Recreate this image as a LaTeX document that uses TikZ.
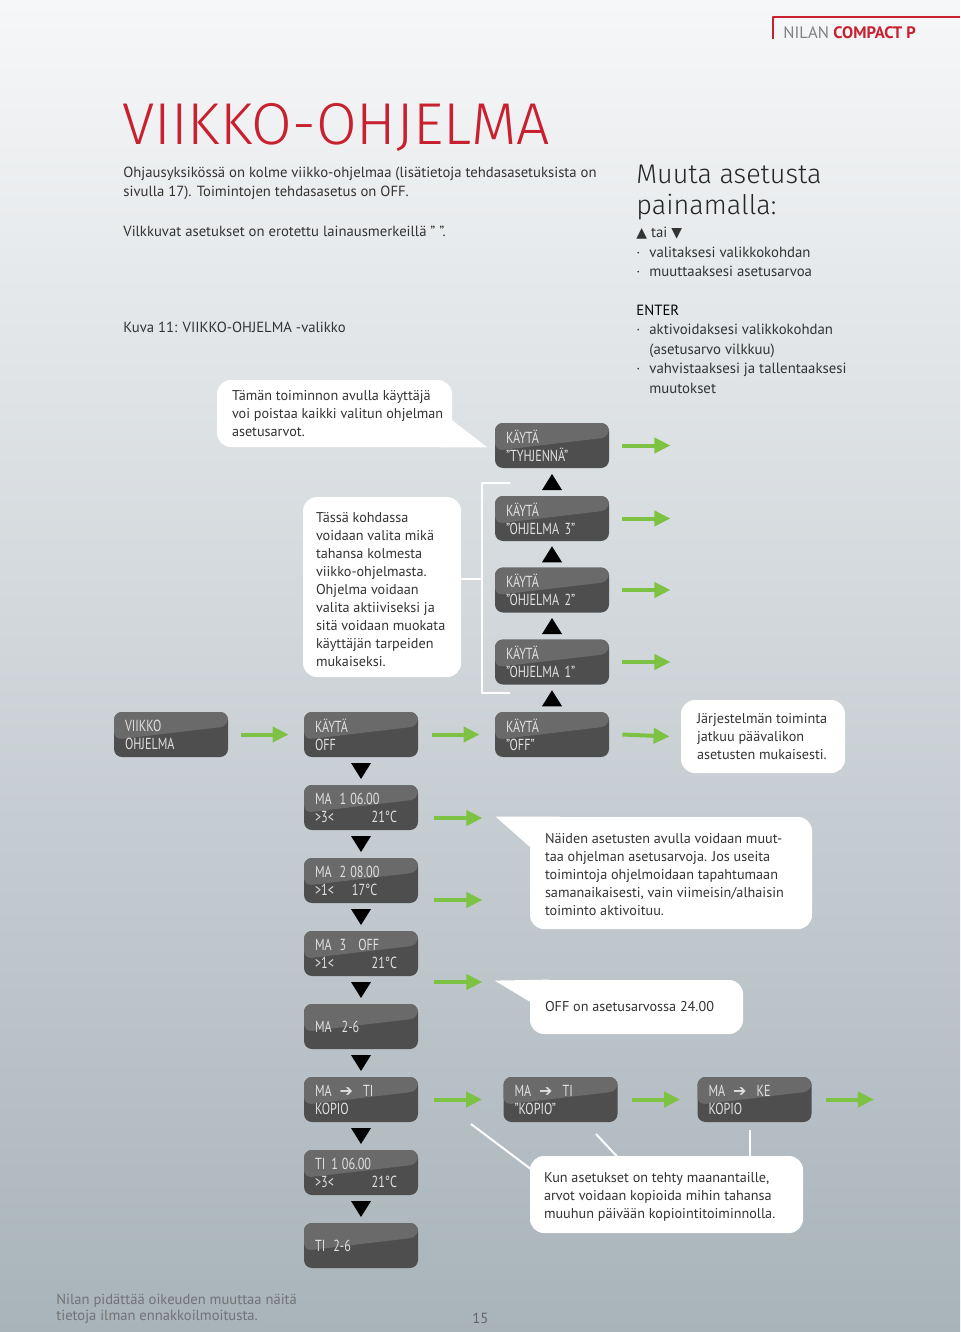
\documentclass[tikz,border=0pt]{standalone}
\usepackage{fontspec}
\setmainfont{PT Sans}
\newfontfamily\symfont{DejaVu Sans}
\newfontfamily\panelfont[FakeStretch=0.76]{PT Sans}
\IfFontExistsTF{FiraSans-Light.otf}{\newfontfamily\thinfont{FiraSans-Light.otf}}{%
  \IfFontExistsTF{Fira Sans Light}{\newfontfamily\thinfont{Fira Sans Light}}{%
    \IfFontExistsTF{DejaVu Sans ExtraLight}{\newfontfamily\thinfont{DejaVu Sans ExtraLight}}{%
      \newfontfamily\thinfont{PT Sans}}}}
\usepackage{xcolor}
\usetikzlibrary{arrows.meta,calc}

\definecolor{nilanred}{HTML}{C8202F}
\definecolor{bgtop}{HTML}{F6F7F8}
\definecolor{bgbottom}{HTML}{A8B3BA}
\definecolor{paneldark}{HTML}{4E4E4E}
\definecolor{panellight}{HTML}{6A6A6A}
\definecolor{arrowgreen}{HTML}{7DC243}
\definecolor{textgray}{HTML}{333333}

\newcommand\bul{\makebox[6.5pt][l]{·}}
\newcommand\copyarrow{{\symfont\fontsize{8}{8}\selectfont ➔}}

\begin{document}
\begin{tikzpicture}[x=0.5pt,y=-0.5pt,line join=round,
  panel/.style={rounded corners=4pt,minimum width=57pt,minimum height=22.5pt,
    inner xsep=5.5pt,inner ysep=0pt,text width=46pt,align=left,
    font=\panelfont\fontsize{8}{9}\selectfont,text=white!88!black,fill=paneldark,
    path picture={
      \fill[panellight] (path picture bounding box.north west) -- (path picture bounding box.north east)
        -- ($(path picture bounding box.north east)!0.32!(path picture bounding box.south east)$)
        .. controls ($(path picture bounding box.north)!0.45!(path picture bounding box.south)$) ..
        ($(path picture bounding box.north west)!0.62!(path picture bounding box.south west)$) -- cycle;}},
  bubble/.style={fill=white,rounded corners=7pt,inner sep=0pt},
  bubbletext/.style={anchor=west,inner sep=0pt,align=left,font=\fontsize{7.1}{9}\selectfont,text=textgray},
  body/.style={font=\fontsize{7.35}{9.5}\selectfont,text=textgray,inner sep=0pt,align=left},
  go/.style={draw=arrowgreen,line width=2pt,-{Triangle[length=8pt,width=7.5pt]}},
  wire/.style={draw=white,line width=1pt},
  dtri/.pic={\fill (-10,-8) -- (10,-8) -- (0,8) -- cycle;},
  utri/.pic={\fill (-10,8) -- (10,8) -- (0,-8) -- cycle;}]

  % page
  \useasboundingbox (0,0) rectangle (960,1332);
  \shade[top color=bgtop,bottom color=bgbottom] (0,0) rectangle (960,1332);

  % header
  \draw[nilanred,line width=1.3pt] (960,17) -- (773,17) -- (773,39);
  \node[anchor=base west,inner sep=0pt,font=\fontsize{8.3}{8}\selectfont] (brand) at (783,39)
    {{\color{black!50}NILAN} {\bfseries\color{nilanred}COMPACT P}};
  \node[anchor=base west,inner sep=0pt,font=\thinfont\fontsize{29.5}{30}\selectfont,text=nilanred] (title) at (122,145) {VIIKKO-OHJELMA};

  % texts (base = last line)
  \node[body,anchor=base west] (intro) at (123,197)
    {Ohjausyksikössä on kolme viikko-ohjelmaa (lisätietoja tehdasasetuksista on\\sivulla 17). Toimintojen tehdasasetus on OFF.};
  \node[body,anchor=base west] (blink) at (123,236) {Vilkkuvat asetukset on erotettu lainausmerkeillä ” ”.};
  \node[body,anchor=base west] (caption) at (123,332) {Kuva 11: VIIKKO-OHJELMA -valikko};
  \node[anchor=base west,inner sep=0pt,align=left,font=\thinfont\fontsize{13.5}{16}\selectfont,text=black!85] (howto) at (636,215)
    {Muuta asetusta\\painamalla:};
  \node[body,anchor=base west,font=\fontsize{7.4}{9.7}\selectfont] (keys) at (636,393)
    {{\symfont\fontsize{7}{7}\selectfont ▲} tai {\symfont\fontsize{7}{7}\selectfont ▼}\\
     \bul valitaksesi valikkokohdan\\
     \bul muuttaaksesi asetusarvoa\\[9.7pt]
     {\color{black}ENTER}\\
     \bul aktivoidaksesi valikkokohdan\\
     \hspace*{6.5pt}(asetusarvo vilkkuu)\\
     \bul vahvistaaksesi ja tallentaaksesi\\
     \hspace*{6.5pt}muutokset};

  % bracket and wires
  \draw[wire] (510,483) -- (482,483) -- (482,693) -- (510,693);
  \draw[wire] (471,1124) -- (548,1182);
  \draw[wire] (596,1134) -- (625,1165);
  \draw[wire] (750,1130) -- (750,1165);

  % bubbles
  \node[bubble,minimum width=117.5pt,minimum height=33.5pt] (note1) at (334.5,413.5) {};
  \fill[white] ($(note1.south east)+(0,-27)$) -- ($(note1.south east)+(35,0)$) -- ($(note1.south east)+(-12,0)$) -- cycle;
  \node[bubbletext] (note1text) at ([xshift=7.5pt]note1.west)
    {Tämän toiminnon avulla käyttäjä\\voi poistaa kaikki valitun ohjelman\\asetusarvot.};
  \node[bubble,minimum width=79pt,minimum height=90pt] (note2) at (382,587) {};
  \node[bubbletext] (note2text) at ([shift={(13,3)}]note2.west)
    {Tässä kohdassa\\voidaan valita mikä\\tahansa kolmesta\\viikko-ohjelmasta.\\Ohjelma voidaan\\valita aktiiviseksi ja\\sitä voidaan muokata\\käyttäjän tarpeiden\\mukaiseksi.};
  \coordinate (brk) at (482,579);
  \draw[wire] (brk -| note2.east) -- (brk);
  \node[bubble,minimum width=82pt,minimum height=36.5pt] (noteon) at (763,736.5) {};
  \node[bubbletext] (noteontext) at ([xshift=8pt]noteon.west)
    {Järjestelmän toiminta\\jatkuu päävalikon\\asetusten mukaisesti.};
  \node[bubble,minimum width=141pt,minimum height=56pt] (note3) at (671,873) {};
  \fill[white] ($(note3.north west)+(-34,0)$) -- ($(note3.north west)+(30,0)$) -- ($(note3.north west)+(0,30)$) -- cycle;
  \node[bubbletext] (note3text) at ([shift={(15,2)}]note3.west)
    {Näiden asetusten avulla voidaan muut-\\taa ohjelman asetusarvoja. Jos useita\\toimintoja ohjelmoidaan tapahtumaan\\samanaikaisesti, vain viimeisin/alhaisin\\toiminto aktivoituu.};
  \node[bubble,minimum width=106.5pt,minimum height=27pt] (note4) at (636.5,1007) {};
  \fill[white] ($(note4.north west)+(-35,1)$) -- ($(note4.north west)+(20,0)$) -- ($(note4.north west)+(0,22)$) -- cycle;
  \node[bubbletext] (note4text) at ([xshift=7.5pt]note4.west) {OFF on asetusarvossa 24.00};
  \node[bubble,minimum width=136.5pt,minimum height=38.5pt] (note5) at (666.5,1194.5) {};
  \node[bubbletext] (note5text) at ([shift={(14,2)}]note5.west)
    {Kun asetukset on tehty maanantaille,\\arvot voidaan kopioida mihin tahansa\\muuhun päivään kopiointitoiminnolla.};

  % panels
  \node[panel] (clear) at (552,445.5) {KÄYTÄ\\”TYHJENNÄ”};
  \node[panel] (prog3) at (552,518.5) {KÄYTÄ\\”OHJELMA 3”};
  \node[panel] (prog2) at (552,590) {KÄYTÄ\\”OHJELMA 2”};
  \node[panel] (prog1) at (552,662) {KÄYTÄ\\”OHJELMA 1”};
  \node[panel] (menu) at (171,734.5) {VIIKKO\\OHJELMA};
  \node[panel] (off) at (361,734.5) {KÄYTÄ\\OFF};
  \node[panel] (offsel) at (552,734.5) {KÄYTÄ\\”OFF”};
  \node[panel] (ma1) at (361,807.5) {MA\hspace{4pt}1\hspace{2pt}06.00\\>3<\hfill 21°C\hspace*{5pt}};
  \node[panel] (ma2) at (361,880.5) {MA\hspace{4pt}2\hspace{2pt}08.00\\>1<\hspace{9pt}17°C};
  \node[panel] (ma3) at (361,953.5) {MA\hspace{4pt}3\hspace{6pt}OFF\\>1<\hfill 21°C\hspace*{5pt}};
  \node[panel] (marest) at (361,1026.5) {MA\hspace{5pt}2-6};
  \node[panel] (copy) at (361,1099.5) {MA\hspace{4pt}\copyarrow\hspace{5pt}TI\\KOPIO};
  \node[panel] (copysel) at (560.5,1099.5) {MA\hspace{4pt}\copyarrow\hspace{5pt}TI\\”KOPIO”};
  \node[panel] (copyke) at (754.5,1099.5) {MA\hspace{4pt}\copyarrow\hspace{5pt}KE\\KOPIO};
  \node[panel] (ti1) at (361,1172.5) {TI\hspace{3pt}1\hspace{2pt}06.00\\>3<\hfill 21°C\hspace*{5pt}};
  \node[panel] (tirest) at (361,1245.5) {TI\hspace{4pt}2-6};

  % triangles
  \foreach \a/\b in {clear/prog3,prog3/prog2,prog2/prog1,prog1/offsel}
    \pic at ($(\a.south)!0.5!(\b.north)$) {utri};
  \foreach \a/\b in {off/ma1,ma1/ma2,ma2/ma3,ma3/marest,marest/copy,copy/ti1,ti1/tirest}
    \pic at ($(\a.south)!0.5!(\b.north)$) {dtri};

  % green arrows
  \draw[go] ([xshift=6.5pt]menu.east) -- ([xshift=-7.5pt]off.west);
  \draw[go] ([xshift=7pt]off.east) -- ([xshift=-7.5pt]offsel.west);
  \draw[go] ([xshift=6.5pt]offsel.east) -- ([xshift=-5.5pt]noteon.west);
  \draw[go] ([xshift=6.5pt]clear.east) -- +(48,0);
  \foreach \p in {prog3,prog2,prog1}
    \draw[go] ([xshift=6.5pt]\p.east) -- +(48,0);
  \draw[go] ([shift={(16,10.5)}]ma1.east) -- +(48,0);
  \draw[go] ([shift={(16,19.5)}]ma2.east) -- +(48,0);
  \draw[go] ([shift={(16,28.5)}]ma3.east) -- +(48,0);
  \draw[go] ([xshift=8pt]copy.east) -- ([xshift=-10.5pt]copysel.west);
  \draw[go] ([xshift=7pt]copysel.east) -- ([xshift=-8.5pt]copyke.west);
  \draw[go] ([xshift=7pt]copyke.east) -- +(48,0);

  % footer
  \node[body,anchor=base west,text=black!55,font=\fontsize{7.3}{8}\selectfont] (legal) at (56,1320)
    {Nilan pidättää oikeuden muuttaa näitä\\tietoja ilman ennakkoilmoitusta.};
  \node[body,anchor=base west,text=black!60] (pageno) at (472,1323) {15};
\end{tikzpicture}
\end{document}
